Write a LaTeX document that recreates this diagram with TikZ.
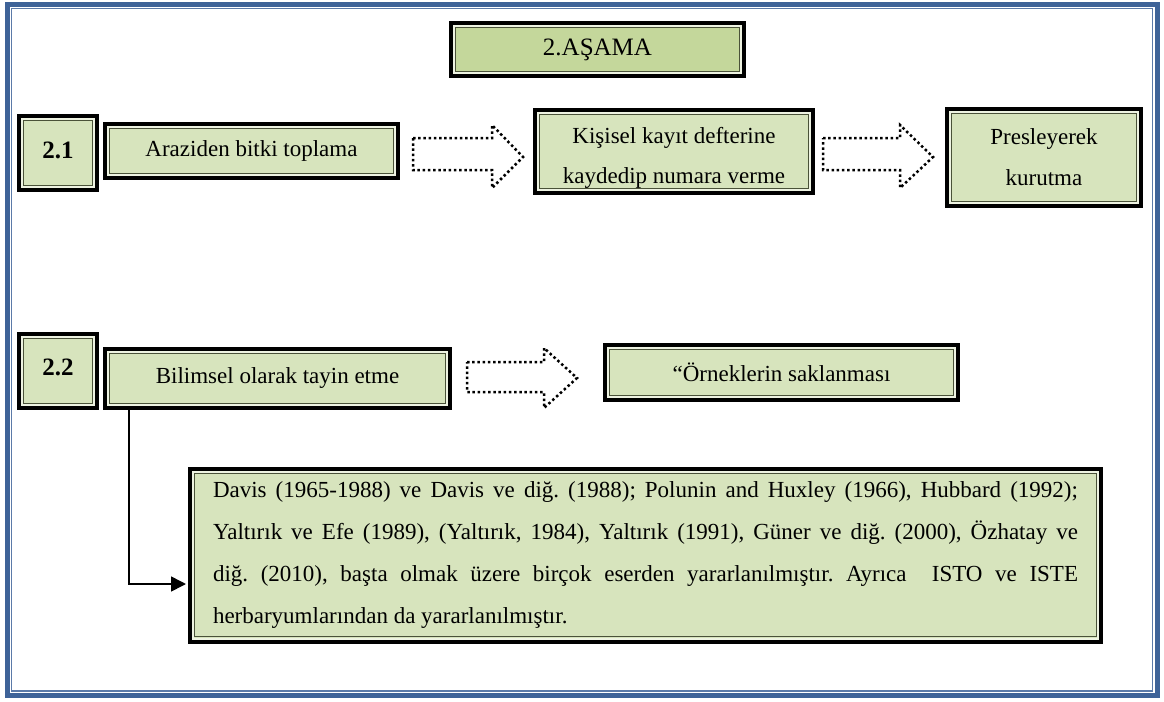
\documentclass[tikz,border=0pt]{standalone}
\usepackage{fontspec}
\setmainfont{Liberation Serif}
\usetikzlibrary{positioning,arrows.meta}
\frenchspacing

\definecolor{pageblue}{HTML}{3E6398}
\definecolor{olivelight}{HTML}{D7E4BD}
\definecolor{olivemid}{HTML}{C4D79B}
\definecolor{olivegap}{HTML}{EEF3E2}
\definecolor{olivedark}{HTML}{4A5239}

\tikzset{
  stepbox/.style={rectangle, draw=black, line width=2pt, fill=olivelight,
    inner sep=0pt, align=center, font=\fontsize{11.5}{20.5}\selectfont,
    path picture={
      \draw[olivegap, line width=1pt]
        ([shift={(1.5pt,1.5pt)}]path picture bounding box.south west) rectangle
        ([shift={(-1.5pt,-1.5pt)}]path picture bounding box.north east);
      \draw[olivedark, line width=0.5pt]
        ([shift={(2.3pt,2.3pt)}]path picture bounding box.south west) rectangle
        ([shift={(-2.3pt,-2.3pt)}]path picture bounding box.north east);
    }},
  numbox/.style={stepbox, font=\fontsize{12.5}{15}\selectfont\bfseries},
  dotarrow/.style={draw=black, line width=1.25pt, dash pattern=on 1.25pt off 1.35pt, line join=miter}
}

\begin{document}
\begin{tikzpicture}[x=0.5pt, y=-0.5pt]

\useasboundingbox (0,0) rectangle (1164,702);

% page border
\draw[pageblue, line width=2.5pt] (7.5,4.5) rectangle (1157.5,695.5);
\draw[pageblue!85, line width=0.65pt] (11.7,8.3) rectangle (1152.3,691);

% stage title
\node[stepbox, fill=olivemid, minimum width=146.5pt, minimum height=26.5pt,
      font=\fontsize{12.5}{15}\selectfont] (stage) at (597.5,49.5) {\raisebox{-1pt}{2.AŞAMA}};

% 2.1
\node[numbox, minimum width=39pt, minimum height=37pt] (n21) at (58,153) {\raisebox{3pt}{2.1}};

\node[stepbox, minimum width=146.5pt, minimum height=27pt] (arazi) at (251.5,151) {\raisebox{-1.5pt}{Araziden bitki toplama}};

\node[stepbox, minimum width=139pt, minimum height=41.5pt, font=\fontsize{11.5}{20}\selectfont] (kayit) at (674,151.5) {\rule{0pt}{14pt}Kişisel kayıt defterine\\kaydedip numara verme};

\node[stepbox, minimum width=97pt, minimum height=48.5pt] (pres) at (1044,157.5) {Presleyerek\\kurutma};

\draw[dotarrow] (413,138) -- (492,138) -- (492,125) -- (523,157) -- (492,188) -- (492,170) -- (413,170) -- cycle;

\draw[dotarrow] (823,138) -- (900,138) -- (900,125) -- (933,157) -- (900,188) -- (900,170) -- (823,170) -- cycle;

% 2.2
\node[numbox, minimum width=39pt, minimum height=37pt] (n22) at (58,371) {\raisebox{4pt}{2.2}};

\node[stepbox, minimum width=172.5pt, minimum height=29.5pt] (bilim) at (277.5,378.5) {\raisebox{-1.5pt}{Bilimsel olarak tayin etme}};

\node[stepbox, minimum width=176.5pt, minimum height=27.5pt] (ornek) at (781.5,372.5) {“Örneklerin saklanması};

\draw[dotarrow] (467,362) -- (544,362) -- (544,348) -- (577,378) -- (544,408) -- (544,392) -- (467,392) -- cycle;

\node[stepbox, minimum width=455.5pt, minimum height=86.5pt, text width=432.5pt, align=justify,
      font=\fontsize{11.5}{21}\selectfont] (davis) at (645.5,555)
  {Davis (1965-1988) ve Davis ve diğ. (1988); Polunin and Huxley (1966), Hubbard (1992);\linebreak
   Yaltırık ve Efe (1989), (Yaltırık, 1984), Yaltırık (1991), Güner ve diğ. (2000), Özhatay ve\linebreak
   diğ. (2010), başta olmak üzere birçok eserden yararlanılmıştır. Ayrıca~ ISTO ve ISTE\linebreak
   herbaryumlarından da yararlanılmıştır.};

\coordinate (turn) at (129,584);
\draw[line width=0.8pt, -{Triangle[length=7.5pt,width=7.5pt]}, shorten >=1pt]
  (bilim.south -| turn) |- (davis.west |- turn);

\end{tikzpicture}
\end{document}
